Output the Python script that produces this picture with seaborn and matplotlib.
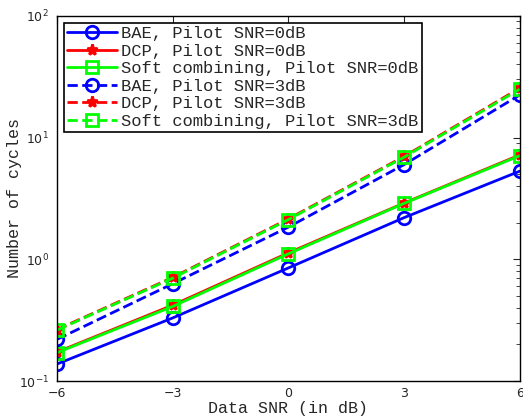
import numpy as np
import pandas as pd
import matplotlib
matplotlib.use("Agg")
import matplotlib.pyplot as plt
import seaborn as sns

# chart data
data_snr = [-6, -3, 0, 3, 6]
bae_0db = [0.138, 0.33, 0.85, 2.2, 5.3]
dcp_0db = [0.173, 0.42, 1.13, 2.9, 7.2]
soft_0db = [0.171, 0.41, 1.11, 2.88, 7.1]
bae_3db = [0.22, 0.63, 1.84, 6.0, 22.4]
dcp_3db = [0.265, 0.71, 2.15, 7.0, 25.5]
soft_3db = [0.262, 0.70, 2.12, 6.9, 25.0]

series = [
    ("BAE, Pilot SNR=0dB", bae_0db, "blue", "o", "-"),
    ("DCP, Pilot SNR=0dB", dcp_0db, "red", "*", "-"),
    ("Soft combining, Pilot SNR=0dB", soft_0db, "lime", "s", "-"),
    ("BAE, Pilot SNR=3dB", bae_3db, "blue", "o", "--"),
    ("DCP, Pilot SNR=3dB", dcp_3db, "red", "*", "--"),
    ("Soft combining, Pilot SNR=3dB", soft_3db, "lime", "s", "--"),
]

sns.set_style("white")
plt.rcParams["font.family"] = ["DejaVu Sans"]
mono = "Liberation Mono"

fig = plt.figure(figsize=(5.23, 4.16), dpi=100)
ax = fig.add_axes([0.109, 0.084, 0.885, 0.878])

for name, vals, col, mk, ls in series:
    df = pd.DataFrame({"snr": data_snr, "cycles": vals})
    face = col if mk == "*" else "none"
    sns.lineplot(data=df, x="snr", y="cycles", ax=ax, color=col, linestyle=ls,
                 linewidth=2, marker=mk, markersize=9 if mk != "*" else 8,
                 markerfacecolor=face, markeredgecolor=col, markeredgewidth=2,
                 label=name)

ax.set_yscale("log")
ax.set_xlim(-6, 6)
ax.set_ylim(0.1, 100)
ax.set_xticks(data_snr)
ax.set_xticklabels(["\u22126", "\u22123", "0", "3", "6"])
ax.tick_params(axis="both", which="both", direction="in", top=True, right=True, labelsize=9)
ax.tick_params(axis="both", which="major", length=5)
ax.tick_params(axis="both", which="minor", length=3)
ax.tick_params(axis="x", which="major", pad=4)
ax.tick_params(axis="y", which="major", pad=6)
for s in ax.spines.values():
    s.set_color("black")
    s.set_linewidth(1)

ax.set_xlabel("Data SNR (in dB)", family=mono, fontsize=12)
ax.set_ylabel("Number of cycles", family=mono, fontsize=12)
ax.xaxis.set_label_coords(0.5, -0.054)
ax.yaxis.set_label_coords(-0.076, 0.5)

leg = ax.legend(loc="upper left", prop={"family": mono, "size": 12.3}, frameon=True,
                fancybox=False, edgecolor="black", framealpha=1,
                borderpad=0.2, labelspacing=0.15, handlelength=2.9,
                handletextpad=0.25, borderaxespad=0.4)
leg.get_frame().set_linewidth(1.2)

fig.savefig("out.png", dpi=100)
